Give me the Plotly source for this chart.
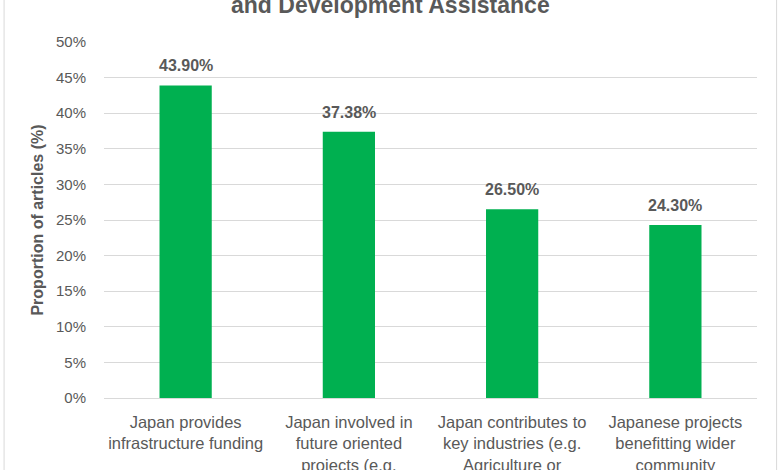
import plotly.graph_objects as go

categories = [
    "Japan provides<br>infrastructure funding",
    "Japan involved in<br>future oriented<br>projects (e.g.",
    "Japan contributes to<br>key industries (e.g.<br>Agriculture or",
    "Japanese projects<br>benefitting wider<br>community",
]
values = [0.4390, 0.3738, 0.2650, 0.2430]
labels = ["43.90%", "37.38%", "26.50%", "24.30%"]
tick_vals = [0, 0.05, 0.10, 0.15, 0.20, 0.25, 0.30, 0.35, 0.40, 0.45, 0.50]
tick_text = ["0%", "5%", "10%", "15%", "20%", "25%", "30%", "35%", "40%", "45%", "50%"]
title_text = "and Development Assistance"
y_title = "Proportion of articles (%)"

GREEN = "#00B050"
GREY = "#595959"
GRID = "#D9D9D9"

fig = go.Figure()
fig.add_trace(go.Bar(x=categories, y=values, marker=dict(color=GREEN, line=dict(width=0)),
                     hoverinfo="skip"))

for c, v, t in zip(categories, values, labels):
    fig.add_annotation(x=c, y=v, text=t, showarrow=False, yanchor="bottom", yshift=9,
                       font=dict(family="Liberation Sans, Arial", size=16, color=GREY, weight="bold"))

fig.add_annotation(xref="paper", yref="paper", x=0.438, y=1.104, text=title_text, showarrow=False,
                   xanchor="center", yanchor="middle",
                   font=dict(family="Liberation Sans, Arial", size=23, color=GREY, weight="bold"))

# chart-area border
fig.add_shape(type="rect", xref="paper", yref="paper", x0=-0.153, x1=1.03, y0=-0.3, y1=1.2,
              line=dict(color=GRID, width=1), fillcolor="rgba(0,0,0,0)", layer="below")

fig.update_layout(
    width=780, height=470,
    margin=dict(l=104, r=23, t=42, b=72, autoexpand=False),
    paper_bgcolor="white", plot_bgcolor="white",
    bargap=0.68,
    showlegend=False,
    font=dict(family="Liberation Sans, Arial", color=GREY),
    xaxis=dict(showgrid=False, showline=True, linecolor=GRID, linewidth=1, ticks="",
               automargin=False,
               tickfont=dict(family="Liberation Sans, Arial", size=16.5, color=GREY),
               ticklabelstandoff=9),
    yaxis=dict(range=[0, 0.5], tickvals=tick_vals, ticktext=tick_text, showgrid=True,
               gridcolor=GRID, gridwidth=1, zeroline=False, showline=False, ticks="",
               automargin=False,
               ticklabelstandoff=17,
               tickfont=dict(family="Liberation Sans, Arial", size=15, color=GREY),
               title=dict(text=y_title, standoff=8,
                          font=dict(family="Liberation Sans, Arial", size=16, color=GREY, weight="bold"))),
)

fig.write_html("out.html")
